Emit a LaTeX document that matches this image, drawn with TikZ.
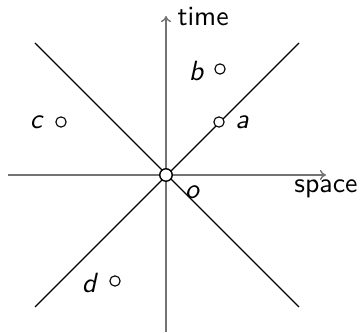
\documentclass[tikz,border=0pt]{standalone}
\usetikzlibrary{arrows.meta}
\begin{document}
\begin{tikzpicture}[x=0.36pt,y=-0.36pt,font=\sffamily,
  axis/.style={draw=black!55,line width=0.5pt,-{To[length=2.2pt,width=3.6pt]}},
  cone/.style={draw=black,line width=0.4pt},
  event/.style={circle,draw=black,line width=0.4pt,fill=white,inner sep=0pt,minimum size=3.7pt},
  origin/.style={circle,draw=black,line width=0.5pt,fill=white,inner sep=0pt,minimum size=4.5pt},
  lab/.style={inner sep=0pt,font=\sffamily\itshape}]
\useasboundingbox (0,0) rectangle (360,333);
% light cone corners
\coordinate (tl) at (35,43);
\coordinate (br) at (299,307);
\coordinate (tr) at (299,43);
\coordinate (bl) at (35,307);
% axes ends
\coordinate (xs) at (8,175);
\coordinate (xe) at (326,175);
\coordinate (ys) at (166,332);
\coordinate (ye) at (166,16);
\path[axis] (xs) -- (xe);
\path[axis] (ys) -- (ye);
\path[cone] (tl) -- (br);
\path[cone] (bl) -- (tr);
\node[origin] (o) at (166,175) {};
\node[event] (a) at (219,122) {};
\node[event] (b) at (220,69) {};
\node[event] (c) at (61,122) {};
\node[event] (d) at (115,281) {};
\node[lab] (la) at (242,122) {a};
\node[lab] (lb) at (196,71) {b};
\node[lab] (lc) at (36,122) {c};
\node[lab] (ld) at (89,283) {d};
\node[lab] (lo) at (192,192) {o};
\node[inner sep=0pt,anchor=west] (time) at (177,17) {time};
\node[inner sep=0pt] (space) at (326,189) {space};
\end{tikzpicture}
\end{document}
